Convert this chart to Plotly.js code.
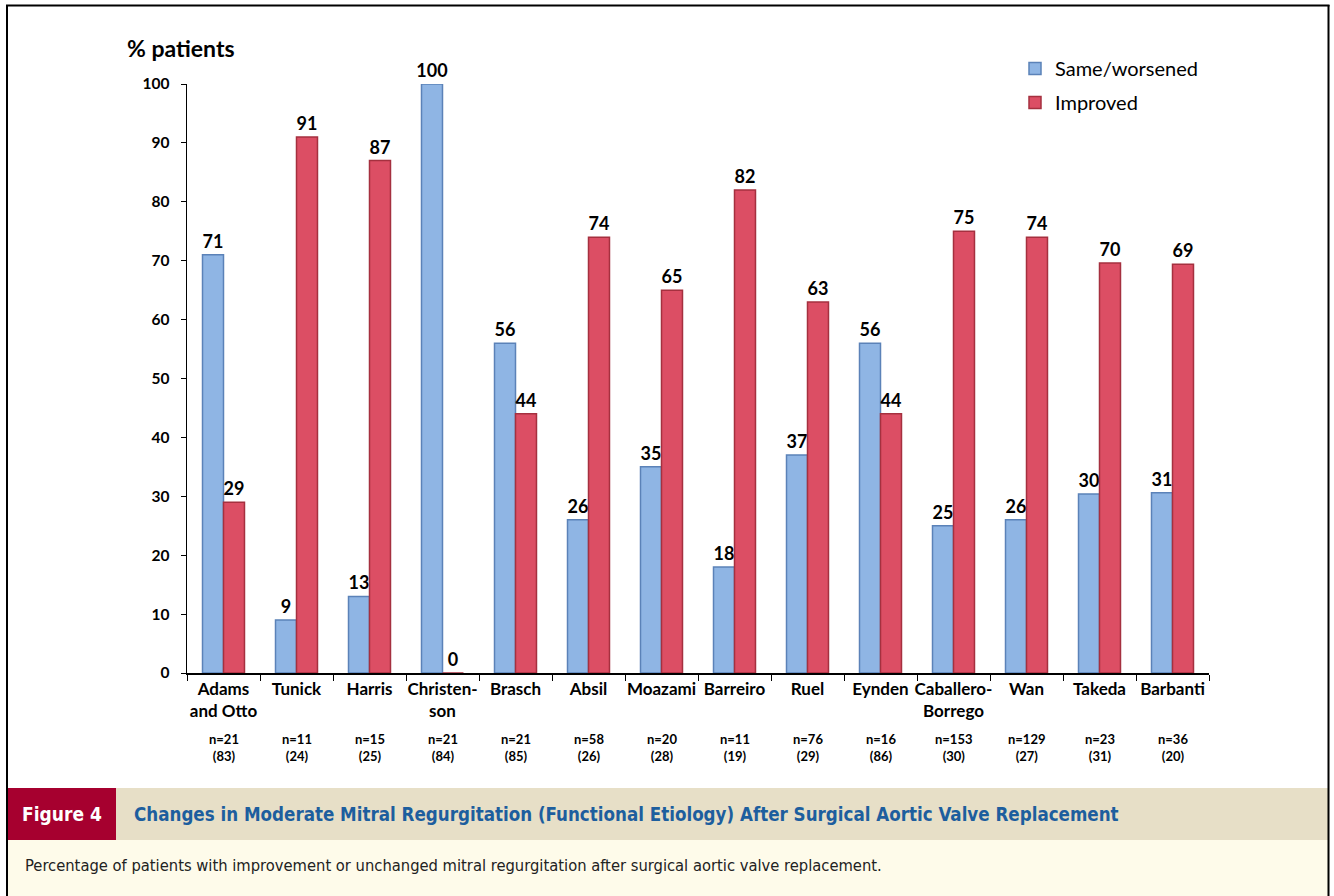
<!DOCTYPE html>
<html>
<head>
<meta charset="utf-8">
<script src="https://cdn.plot.ly/plotly-3.0.1.min.js"></script>
<style>
html,body{margin:0;padding:0;background:#fff;}
#chart{width:1334px;height:896px;}
</style>
</head>
<body>
<div id="chart"></div>
<script>
const studies = ["Adams and Otto","Tunick","Harris","Christenson","Brasch","Absil","Moazami","Barreiro","Ruel","Eynden","Caballero-Borrego","Wan","Takeda","Barbanti"];
const tickLabels = ["Adams<br>and Otto","Tunick","Harris","Christen-<br>son","Brasch","Absil","Moazami","Barreiro","Ruel","Eynden","Caballero-<br>Borrego","Wan","Takeda","Barbanti"];
const nLabels = ["n=21","n=11","n=15","n=21","n=21","n=58","n=20","n=11","n=76","n=16","n=153","n=129","n=23","n=36"];
const refLabels = ["(83)","(24)","(25)","(84)","(85)","(26)","(28)","(19)","(29)","(86)","(30)","(27)","(31)","(20)"];
const sameWorsened = [71,9,13,100,56,26,35,18,37,56,25,26,30.4,30.6];
const improved = [29,91,87,0,44,74,65,82,63,44,75,74,69.6,69.4];
const sameText = ["71","9","13","100","56","26","35","18","37","56","25","26","30","31"];
const improvedText = ["29","91","87","0","44","74","65","82","63","44","75","74","70","69"];

const W = 1334, H = 896;
const M = {l:187, r:125, t:84, b:223};
const PW = W - M.l - M.r, PH = H - M.t - M.b;
const fx = px => (px - M.l) / PW;
const fy = py => (H - M.b - py) / PH;

const FONT = 'Lato, "Open Sans", "Noto Sans", sans-serif';
const NARROW = '"Liberation Sans Narrow", "DejaVu Sans Condensed", "Liberation Sans", sans-serif';

const traces = [
  {
    type:'bar', name:'Same/worsened', x:studies, y:sameWorsened,
    text:sameText, textposition:'outside', cliponaxis:false, constraintext:'none',
    textfont:{family:FONT, size:18, color:'#000', weight:'bold'},
    marker:{color:'#8fb5e4', line:{color:'#5b82b8', width:1.5}},
    legendgroup:'a', hoverinfo:'x+y'
  },
  {
    type:'bar', name:'Improved', x:studies, y:improved,
    text:improvedText, textposition:'outside', cliponaxis:false, constraintext:'none',
    textfont:{family:FONT, size:18, color:'#000', weight:'bold'},
    marker:{color:'#dc4e64', line:{color:'#a5303f', width:1.5}},
    legendgroup:'b', hoverinfo:'x+y'
  }
];

const annotations = [
  {xref:'paper', yref:'paper', x:fx(125), y:fy(48), xanchor:'left', yanchor:'middle',
   text:'<b>% patients</b>', showarrow:false, font:{family:FONT, size:23, color:'#000'}},
  {xref:'paper', yref:'paper', x:fx(62), y:fy(814), xanchor:'center', yanchor:'middle',
   text:'<b>Figure 4</b>', showarrow:false, font:{family:NARROW, size:19, color:'#ffffff'}},
  {xref:'paper', yref:'paper', x:fx(132), y:fy(814), xanchor:'left', yanchor:'middle',
   text:'<b>Changes in Moderate Mitral Regurgitation (Functional Etiology) After Surgical Aortic Valve Replacement</b>',
   showarrow:false, font:{family:NARROW, size:18.6, color:'#1d5e9e'}},
  {xref:'paper', yref:'paper', x:fx(23), y:fy(866), xanchor:'left', yanchor:'middle',
   text:'Percentage of patients with improvement or unchanged mitral regurgitation after surgical aortic valve replacement.',
   showarrow:false, font:{family:NARROW, size:16.4, color:'#222'}}
];
studies.forEach((s, i) => {
  annotations.push({xref:'x', yref:'paper', x:s, y:fy(747), xanchor:'center', yanchor:'middle',
    text:'<b>' + nLabels[i] + '<br>' + refLabels[i] + '</b>', showarrow:false,
    font:{family:FONT, size:13, color:'#000'}});
});

const shapes = [
  {type:'rect', xref:'paper', yref:'paper', x0:fx(8), x1:fx(1328), y0:fy(788), y1:fy(840), fillcolor:'#e7dfc7', line:{width:0}, layer:'below'},
  {type:'rect', xref:'paper', yref:'paper', x0:fx(8), x1:fx(116), y0:fy(788), y1:fy(840), fillcolor:'#a6002f', line:{width:0}, layer:'below'},
  {type:'rect', xref:'paper', yref:'paper', x0:fx(8), x1:fx(1328), y0:fy(840), y1:fy(897), fillcolor:'#fefbea', line:{width:0}, layer:'below'},
  {type:'line', xref:'paper', yref:'paper', x0:fx(7), x1:fx(7), y0:fy(5), y1:fy(900), line:{color:'#000', width:2}},
  {type:'line', xref:'paper', yref:'paper', x0:fx(1328.5), x1:fx(1328.5), y0:fy(5), y1:fy(900), line:{color:'#000', width:2}},
  {type:'line', xref:'paper', yref:'paper', x0:fx(6), x1:fx(1329.5), y0:fy(5.5), y1:fy(5.5), line:{color:'#000', width:2}}
];

const layout = {
  width:W, height:H,
  margin:M,
  paper_bgcolor:'#ffffff', plot_bgcolor:'#ffffff',
  barmode:'group', bargap:0.425, bargroupgap:0,
  font:{family:FONT, color:'#000'},
  showlegend:true,
  legend:{x:fx(1015), y:fy(49), xanchor:'left', yanchor:'top', bgcolor:'rgba(0,0,0,0)',
    font:{family:FONT, size:20, color:'#000'}, traceorder:'grouped', tracegroupgap:5},
  xaxis:{type:'category', tickvals:studies, ticktext:tickLabels, tickson:'boundaries', tickangle:0,
    ticks:'outside', ticklen:6, tickcolor:'#000', tickwidth:1,
    showline:true, linecolor:'#000', linewidth:1.5, showgrid:false, zeroline:false,
    tickfont:{family:FONT, size:17, color:'#000', weight:'bold'}, fixedrange:true},
  yaxis:{range:[0,100], tickvals:[0,10,20,30,40,50,60,70,80,90,100],
    ticks:'outside', ticklen:5, tickcolor:'#000', tickwidth:1, ticklabelstandoff:8,
    showline:true, linecolor:'#000', linewidth:1.5, showgrid:false, zeroline:false,
    tickfont:{family:FONT, size:15.5, color:'#000', weight:'bold'}, fixedrange:true},
  annotations:annotations,
  shapes:shapes
};

Plotly.newPlot('chart', traces, layout, {displayModeBar:false, staticPlot:true});
</script>
</body>
</html>
